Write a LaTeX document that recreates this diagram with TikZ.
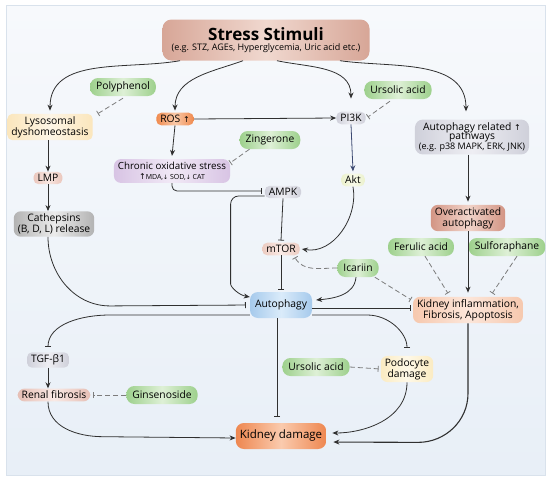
\documentclass[tikz,border=0pt]{standalone}
\usepackage{fontspec}
\setmainfont{Open Sans}
\newfontfamily\arrowfont{DejaVu Sans}
\usetikzlibrary{arrows.meta,positioning}

\definecolor{panelT}{HTML}{F7F9FC}
\definecolor{panelB}{HTML}{E8EFF7}
\definecolor{panelD}{HTML}{D9E2EC}
\definecolor{stressE}{HTML}{D7A697}
\definecolor{stressM}{HTML}{F0D8CF}
\definecolor{drugE}{HTML}{9DD08C}
\definecolor{drugM}{HTML}{DEF0D6}
\definecolor{lysoE}{HTML}{FBE6BC}
\definecolor{lysoM}{HTML}{FDF5E6}
\definecolor{rosE}{HTML}{F08A4E}
\definecolor{rosM}{HTML}{F9C9A8}
\definecolor{cosE}{HTML}{D8C4E4}
\definecolor{cosM}{HTML}{F1E9F6}
\definecolor{lmpE}{HTML}{EBC6BC}
\definecolor{lmpM}{HTML}{F8E7E2}
\definecolor{cathE}{HTML}{B3B3B3}
\definecolor{cathM}{HTML}{EBEBEB}
\definecolor{greyE}{HTML}{CFD0DA}
\definecolor{greyM}{HTML}{EEEEF3}
\definecolor{aktE}{HTML}{EBF1CC}
\definecolor{aktM}{HTML}{F8FAEA}
\definecolor{overE}{HTML}{D39584}
\definecolor{overM}{HTML}{F1D4CA}
\definecolor{mtorE}{HTML}{ECCBC1}
\definecolor{mtorM}{HTML}{F9EAE5}
\definecolor{autoE}{HTML}{A6CAEC}
\definecolor{autoM}{HTML}{DAEBFA}
\definecolor{kinfE}{HTML}{F6C8AE}
\definecolor{kinfM}{HTML}{FCE6DA}
\definecolor{renalE}{HTML}{E6BFB5}
\definecolor{renalM}{HTML}{F9E9E5}
\definecolor{podoE}{HTML}{FBEBC2}
\definecolor{podoM}{HTML}{FEF8E7}
\definecolor{kdE}{HTML}{EE8750}
\definecolor{kdM}{HTML}{FACBAE}
\definecolor{lineC}{HTML}{303030}
\definecolor{dashC}{HTML}{7C7C7C}
\definecolor{navyC}{HTML}{3D4A72}

\newcommand{\upa}{{\arrowfont\fontsize{8}{8}\selectfont ↑}}
\newcommand{\dna}{{\arrowfont\fontsize{6}{6}\selectfont ↓}}

\begin{document}
\begin{tikzpicture}[
            x=1pt, y=1pt,
            >={Stealth[length=6pt,width=5pt]},
            box/.style={rounded corners=5pt, inner xsep=4pt, inner ysep=2.5pt, align=center, font=\fontsize{10.3}{11}\selectfont},
            tint/.style 2 args={left color=#1, right color=#1, middle color=#2},
            drug/.style={box, tint={drugE}{drugM}, minimum height=18pt, rounded corners=8pt, inner xsep=6pt},
            act/.style={draw=lineC, line width=0.8pt, ->},
            inh/.style={draw=lineC, line width=0.8pt, -{Bar[width=6pt]}},
            dinh/.style={draw=dashC, line width=0.8pt, dash pattern=on 5pt off 3pt, -{Bar[width=6pt]}}
        ]
        \useasboundingbox (0,0) rectangle (550,-480);
        \fill[white] (0,0) rectangle (550,-480);
        \draw[panelD, top color=panelT, bottom color=panelB] (6,-5) rectangle (545,-475);

        \node[box, tint={stressE}{stressM}, minimum width=207pt, minimum height=41pt, rounded corners=9pt] (stress) at (266,-40)
            {{\fontsize{17}{18}\selectfont\bfseries Stress Stimuli}\\[-1pt]{\fontsize{9}{10}\selectfont (e.g. STZ, AGEs, Hyperglycemia, Uric acid etc.)}};
        \node[drug] (poly) at (123,-87) {Polyphenol};
        \node[box, tint={lysoE}{lysoM}] (lyso) at (50,-127) {Lysosomal\\dyshomeostasis};
        \node[box, tint={rosE}{rosM}] (ros) at (175,-119) {ROS \upa};
        \node[drug] (zing) at (270,-140) {Zingerone};
        \node[box, tint={cosE}{cosM}, rounded corners=7pt, font=\fontsize{9.8}{10.5}\selectfont] (cos) at (172,-171)
            {Chronic oxidative stress\\{\fontsize{7}{8}\selectfont\upa MDA,\dna\ SOD,\dna\ CAT}};
        \node[box, tint={lmpE}{lmpM}] (lmp) at (48,-178) {LMP};
        \node[box, tint={cathE}{cathM}, rounded corners=7pt] (cath) at (54,-224) {Cathepsins\\(B, D, L) release};
        \node[box, tint={greyE}{greyM}] (pi3k) at (351,-118) {PI3K};
        \node[drug] (urs1) at (398,-90) {Ursolic acid};
        \node[box, tint={greyE}{greyM}, rounded corners=8pt, inner ysep=3pt] (arp) at (472,-137)
            {Autophagy related \upa\\[-2pt]pathways\\[-1pt]{\fontsize{9}{10}\selectfont (e.g. p38 MAPK, ERK, JNK)}};
        \node[box, tint={aktE}{aktM}] (akt) at (353,-180) {Akt};
        \node[box, tint={greyE}{greyM}] (ampk) at (283,-192) {AMPK};
        \node[box, tint={overE}{overM}, rounded corners=7pt] (over) at (468,-218) {Overactivated\\autophagy};
        \node[box, tint={mtorE}{mtorM}] (mtor) at (281,-249) {mTOR};
        \node[drug] (icar) at (358,-268) {Icariin};
        \node[drug] (feru) at (421,-247) {Ferulic acid};
        \node[drug] (sulf) at (507,-247) {Sulforaphane};
        \node[box, tint={autoE}{autoM}, minimum width=62pt, minimum height=26pt, rounded corners=8pt] (auto) at (281,-305) {Autophagy};
        \node[box, tint={kinfE}{kinfM}, rounded corners=7pt] (kinf) at (468,-310) {Kidney inflammation,\\Fibrosis, Apoptosis};
        \node[box, tint={greyE}{greyM}] (tgf) at (48,-360) {TGF-β1};
        \node[box, tint={renalE}{renalM}, rounded corners=7pt] (renal) at (54,-395) {Renal fibrosis};
        \node[drug] (gins) at (162,-395) {Ginsenoside};
        \node[drug] (urs2) at (316,-367) {Ursolic acid};
        \node[box, tint={podoE}{podoM}, rounded corners=7pt] (podo) at (407,-369) {Podocyte\\damage};
        \node[box, tint={kdE}{kdM}, minimum width=87pt, minimum height=26pt, rounded corners=8pt, font=\fontsize{11.5}{12}\selectfont] (kd) at (281,-436) {Kidney damage};

        \draw[act] ([xshift=-86pt]stress.south) to[out=190,in=90] ([yshift=3pt]lyso.north);
        \draw[act] ([xshift=-23pt]stress.south) to[out=200,in=90] ([yshift=2pt]ros.north);
        \draw[act] ([xshift=11pt]stress.south) to[out=-12,in=90] ([yshift=13pt]pi3k.north);
        \draw[act] ([xshift=74pt]stress.south) to[out=-8,in=90] ([xshift=-6pt,yshift=8pt]arp.north);
        \draw[dinh] ([yshift=-2pt]poly.south) -- ([xshift=5pt]lyso.north east);
        \draw[act] ([xshift=-2pt]lyso.south) -- (lmp.north);
        \draw[act] (lmp.south) -- (lmp.south |- cath.north);
        \draw[act] (ros.east) -- (pi3k.west);
        \draw[act] (ros.south) -- ([yshift=3pt]cos.north);
        \draw[dinh] ([xshift=10pt]zing.south west) -- ([yshift=-4pt]cos.north east);
        \draw[dinh] ([xshift=-8pt,yshift=-2pt]urs1.south) -- ([xshift=2pt,yshift=1pt]pi3k.east);
        \draw[act, navyC] (pi3k.south) -- ([yshift=2pt]akt.north);
        \draw[inh, rounded corners=5pt] (cos.south) |- ([xshift=-3pt,yshift=1pt]ampk.west);
        \draw[act, rounded corners=8pt] ([yshift=-4pt]ampk.west) -- ++(-34,0) -- ++(0,-80) to[out=-90,in=170] ([yshift=8pt]auto.west);
        \draw[inh] (ampk.south) -- ([yshift=2pt]mtor.north);
        \draw[act] (akt.south) to[out=-80,in=-10] ([xshift=2pt]mtor.east);
        \draw[inh] (mtor.south) -- ([yshift=2pt]auto.north);
        \draw[dinh] (icar.west) to[out=180,in=-60] ([xshift=-5pt,yshift=-2pt]mtor.south east);
        \draw[act] ([xshift=-2pt]icar.south) to[out=-95,in=5] ([xshift=4pt,yshift=5pt]auto.east);
        \draw[dinh] ([xshift=-4pt]icar.south east) -- ([xshift=-2pt,yshift=-3pt]kinf.north west);
        \draw[inh] ([yshift=-3pt]auto.east) -- ([xshift=-2pt,yshift=-3pt]auto.east -| kinf.west);
        \draw[inh, shorten >=8pt] ([yshift=-10pt]auto.east) -- ++(55,0) to[out=0,in=90] (podo.north);
        \draw[inh, shorten >=4pt] ([xshift=-6pt]cath.south) to[out=-90,in=180] ++(62,-69) -- (auto.west);
        \draw[inh, shorten >=5pt] ([yshift=-10pt]auto.west) -- ++(-140,0) to[out=180,in=90] (tgf.north);
        \draw[act] (tgf.south) -- (tgf.south |- renal.north);
        \draw[dinh, shorten >=3pt] (gins.west) -- (renal.east);
        \draw[act] ([xshift=-6pt]renal.south) to[out=-90,in=180] ++(55,-35) -- ([yshift=-2pt]kd.west);
        \draw[inh, shorten >=6pt] ([xshift=-4pt]auto.south) -- ([xshift=-4pt]kd.north);
        \draw[dinh, shorten >=2pt] (urs2.east) -- (podo.west);
        \draw[act, shorten >=6pt] (podo.south) to[out=-90,in=0] ([yshift=3pt]kd.east);
        \draw[act, line width=1.1pt, shorten >=7pt] (kinf.south) -- ++(0,-70) to[out=-90,in=0] ++(-50,-49) -- ([yshift=-6pt]kd.east);
        \draw[act] (over.north |- arp.south) -- ([yshift=3pt]over.north);
        \draw[act, shorten >=4pt] (over.south) -- (kinf.north);
        \draw[dinh, shorten >=4pt] ([xshift=4pt]feru.south) -- ([xshift=-18pt]kinf.north);
        \draw[dinh, shorten >=4pt] ([xshift=10pt]sulf.south) -- ([xshift=22pt]kinf.north);
    \end{tikzpicture}
\end{document}
